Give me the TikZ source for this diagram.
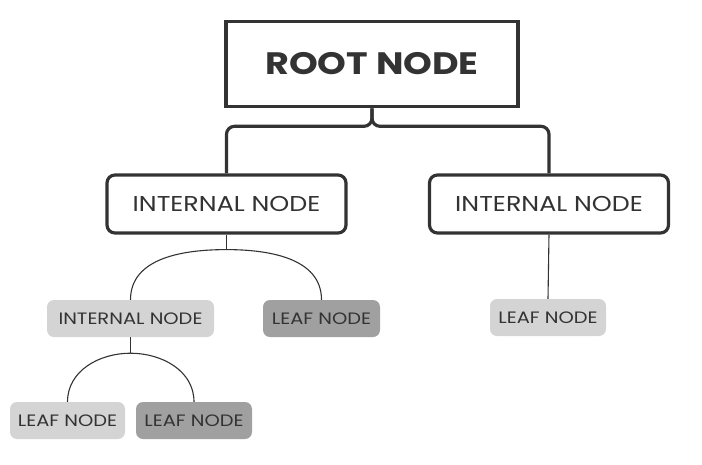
\documentclass[tikz,border=0pt]{standalone}
\usepackage{fontspec}
\setmainfont{Poppins}
\newfontfamily\treefont[FakeStretch=1.18]{Poppins}
\usetikzlibrary{positioning, calc}
\definecolor{ink}{HTML}{333333}
\definecolor{lightgrey}{HTML}{D4D4D4}
\definecolor{darkgrey}{HTML}{A0A0A0}

\begin{document}
\begin{tikzpicture}[x=1pt, y=-1pt,
			rootbox/.style = {rectangle, draw=ink, line width = 3.6pt, text = ink, font = \treefont\fontsize{31}{33}\selectfont\bfseries, minimum width = 292pt, minimum height = 85pt, inner sep = 0pt},
			innerbox/.style = {rectangle, rounded corners = 8pt, draw=ink, line width = 3.2pt, text = ink, font = \treefont\fontsize{21.5}{23}\selectfont, minimum width = 239pt, minimum height = 58pt, inner sep = 0pt},
			smallbox/.style = {rectangle, rounded corners = 7pt, text = ink, font = \treefont\fontsize{16.5}{18}\selectfont, minimum height = 37pt, inner sep = 0pt},
			light/.style = {smallbox, fill = lightgrey},
			dark/.style = {smallbox, fill = darkgrey},
			thickline/.style = {draw=ink, line width = 3.2pt, rounded corners = 8pt},
			thinline/.style = {draw=ink, line width = 1.1pt},
		]
		\useasboundingbox (0,0) rectangle (702,464);

		\node[rootbox](root) at (372,64){ROOT NODE};
		\node[innerbox](intl) at (226.5,204){INTERNAL NODE};
		\node[innerbox](intr) at (549,204){INTERNAL NODE};

		\node[light, minimum width = 167pt](intsub) at (130.5,318.5){INTERNAL NODE};
		\node[dark, minimum width = 117pt](leafa) at (321.5,318.5){LEAF NODE};
		\node[light, minimum width = 116pt](leafb) at (548,317.5){LEAF NODE};
		\node[light, minimum width = 115pt](leafc) at (67.5,420.5){LEAF NODE};
		\node[dark, minimum width = 116pt](leafd) at (194,420.5){LEAF NODE};

		% root to the two internal nodes
		\draw[thickline](root.south)--++(0,18)-|(intl.north);
		\draw[thickline](root.south)--++(0,18)-|(intr.north);

		% left internal node
		\draw[thinline](intl.south)--++(0,15)coordinate(jl);
		\draw[thinline](jl)to[out=180, in=90](intsub.north);
		\draw[thinline](jl)to[out=0, in=90](leafa.north);

		% right internal node
		\draw[thinline](intr.south)--(leafb.north);

		% sub internal node
		\draw[thinline](intsub.south)--++(0,16)coordinate(js);
		\draw[thinline](js)to[out=180, in=90](leafc.north);
		\draw[thinline](js)to[out=0, in=90](leafd.north);

	\end{tikzpicture}
\end{document}
